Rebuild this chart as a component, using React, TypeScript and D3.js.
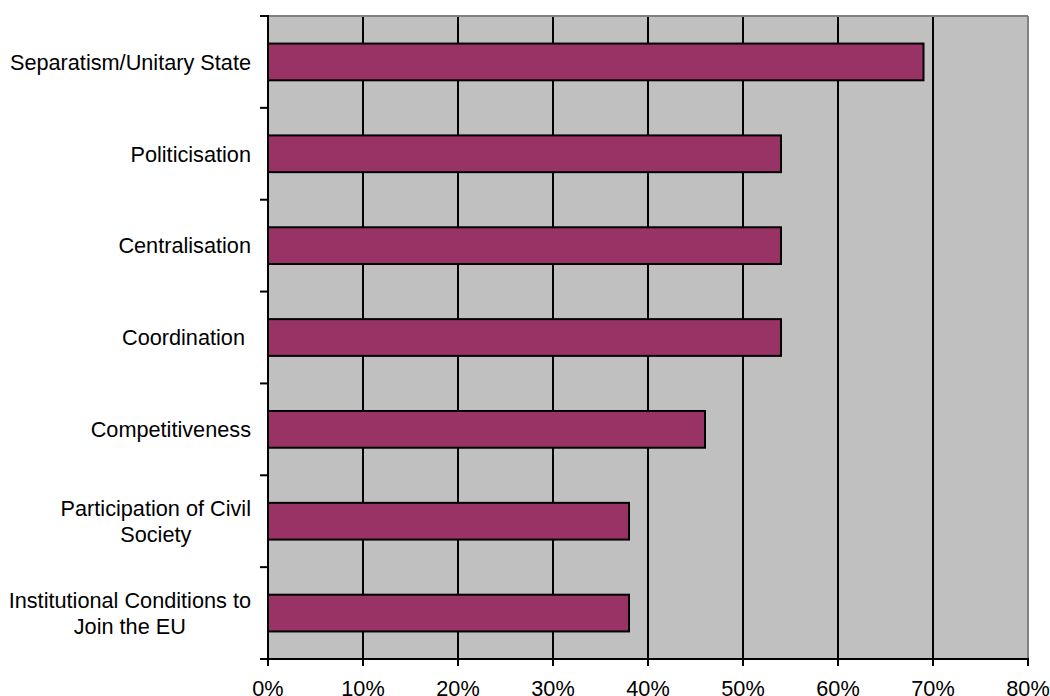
import React from "react";
import * as d3 from "d3";

const categories: string[][] = [
  ["Separatism/Unitary State"],
  ["Politicisation"],
  ["Centralisation"],
  ["Coordination "],
  ["Competitiveness"],
  ["Participation of Civil", "Society"],
  ["Institutional Conditions to", "Join the EU"],
];
const values: number[] = [0.69, 0.54, 0.54, 0.54, 0.46, 0.38, 0.38];
const xTicks: number[] = [0, 0.1, 0.2, 0.3, 0.4, 0.5, 0.6, 0.7, 0.8];

const W = 1050;
const H = 696;
const left = 268;
const right = 1028;
const top = 16;
const bottom = 659;
const FONT = "Liberation Sans, Arial, sans-serif";
const FS = 21.7;

let ctx: CanvasRenderingContext2D | null = null;
function measure(t: string): number {
  if (!ctx) {
    const c = document.createElement("canvas");
    ctx = c.getContext("2d");
  }
  if (!ctx) return t.length * FS * 0.5;
  ctx.font = `${FS}px "Liberation Sans", Arial, sans-serif`;
  return ctx.measureText(t).width;
}

export default function App() {
  const x = d3.scaleLinear().domain([0, 0.8]).range([left, right]);
  const keys = categories.map((c, i) => String(i));
  const y = d3.scaleBand<string>().domain(keys).range([top, bottom]).paddingInner(0.6).paddingOuter(0.3);
  const yb = d3.scaleBand<string>().domain(keys).range([top, bottom]);
  const step = yb.step();
  const labelRight = 251;
  const lineH = 26;

  return (
    <svg width={W} height={H} style={{ position: "absolute", left: 0, top: 0 }} fontFamily={FONT}>
      <rect x={left} y={top} width={right - left} height={bottom - top} fill="#C0C0C0" />
      {xTicks.slice(1, -1).map((t) => (
        <line key={"g" + t} x1={x(t)} x2={x(t)} y1={top} y2={bottom} stroke="#000" strokeWidth={2} />
      ))}
      <line x1={left} x2={right} y1={top} y2={top} stroke="#808080" strokeWidth={2} />
      <line x1={right} x2={right} y1={top} y2={bottom} stroke="#808080" strokeWidth={2} />
      {values.map((v, i) => (
        <rect
          key={"b" + i}
          x={x(0)}
          y={y(String(i))}
          width={x(v) - x(0)}
          height={y.bandwidth()}
          fill="#993366"
          stroke="#000"
          strokeWidth={2}
        />
      ))}
      <line x1={left} x2={left} y1={top - 1} y2={bottom + 1} stroke="#000" strokeWidth={2} />
      <line x1={left - 1} x2={right + 1} y1={bottom} y2={bottom} stroke="#000" strokeWidth={2} />
      {d3.range(categories.length + 1).map((k) => {
        const yy = top + k * step;
        return <line key={"yt" + k} x1={left - 8} x2={left} y1={yy} y2={yy} stroke="#000" strokeWidth={2} />;
      })}
      {xTicks.map((t) => (
        <g key={"xt" + t}>
          <line x1={x(t)} x2={x(t)} y1={bottom} y2={bottom + 7} stroke="#000" strokeWidth={2} />
          <text x={x(t)} y={bottom + 37} textAnchor="middle" fontSize={FS} fill="#000">
            {d3.format(".0%")(t)}
          </text>
        </g>
      ))}
      {categories.map((lines, i) => {
        const cy = (yb(String(i)) as number) + step / 2;
        const maxW = Math.max(...lines.map(measure));
        const cx = labelRight - maxW / 2;
        const n = lines.length;
        return (
          <text key={"l" + i} fontSize={FS} fill="#000" textAnchor="middle">
            {lines.map((ln, j) => (
              <tspan key={j} x={cx} y={cy + (j - (n - 1) / 2) * lineH + FS * 0.36} style={{ whiteSpace: "pre" }}>
                {ln}
              </tspan>
            ))}
          </text>
        );
      })}
    </svg>
  );
}
